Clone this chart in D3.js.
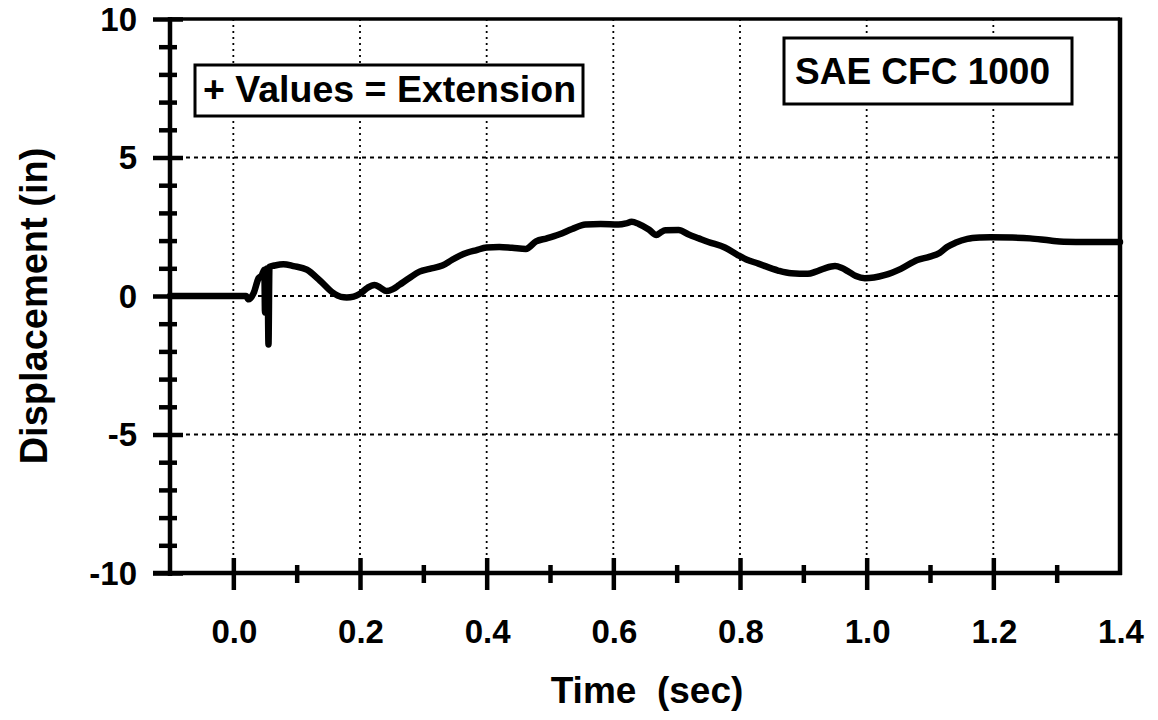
<!DOCTYPE html>
<html>
<head>
<meta charset="utf-8">
<script src="https://cdn.jsdelivr.net/npm/d3@7"></script>
<style>
  html, body { margin: 0; padding: 0; background: #fff; }
  text { font-family: "Liberation Sans", Arial, Helvetica, sans-serif; font-weight: bold; fill: #000; }
</style>
</head>
<body>
<svg id="chart" width="1158" height="720"></svg>
<script>
// ---- data ----
const timeSec = [-0.1, 0.02, 0.024, 0.032, 0.04, 0.045, 0.049, 0.050, 0.051, 0.054, 0.0555, 0.057, 0.065, 0.079, 0.095,
  0.116, 0.137, 0.157, 0.17, 0.179, 0.19, 0.2, 0.212, 0.223, 0.232, 0.242, 0.252, 0.262, 0.278, 0.294,
  0.31, 0.33, 0.345, 0.357, 0.37, 0.383, 0.4, 0.42, 0.44, 0.462, 0.478, 0.495, 0.514, 0.535, 0.556,
  0.58, 0.608, 0.62, 0.629, 0.64, 0.656, 0.668, 0.675, 0.682, 0.703, 0.719, 0.735, 0.75, 0.776, 0.797,
  0.81, 0.829, 0.86, 0.881, 0.907, 0.92, 0.934, 0.95, 0.96, 0.97, 0.983, 0.997, 1.028, 1.054, 1.08,
  1.1, 1.115, 1.127, 1.14, 1.159, 1.18, 1.195, 1.23, 1.258, 1.29, 1.311, 1.35, 1.4];
const displacementIn = [0, 0, -0.12, 0.1, 0.65, 0.75, 0.95, -0.6, 0.95, 1.0, -1.75, 1.05, 1.1, 1.15, 1.08,
  0.95, 0.55, 0.12, -0.03, -0.05, -0.02, 0.08, 0.3, 0.4, 0.3, 0.18, 0.25, 0.4, 0.65, 0.88,
  0.98, 1.1, 1.3, 1.45, 1.57, 1.65, 1.75, 1.77, 1.74, 1.7, 1.97, 2.08, 2.22, 2.42, 2.58,
  2.6, 2.58, 2.62, 2.68, 2.6, 2.4, 2.2, 2.3, 2.37, 2.38, 2.22, 2.08, 1.95, 1.75, 1.47,
  1.32, 1.17, 0.92, 0.82, 0.8, 0.88, 1.0, 1.08, 1.02, 0.9, 0.72, 0.64, 0.75, 0.98, 1.3,
  1.42, 1.55, 1.77, 1.92, 2.06, 2.11, 2.12, 2.11, 2.08, 2.0, 1.96, 1.95, 1.95];
const xTickLabels = ["0.0", "0.2", "0.4", "0.6", "0.8", "1.0", "1.2", "1.4"];
const xTickValues = [0.0, 0.2, 0.4, 0.6, 0.8, 1.0, 1.2, 1.4];
const yTickValues = [-10, -5, 0, 5, 10];
const xGridValues = [0.0, 0.2, 0.4, 0.6, 0.8, 1.0, 1.2];
const yGridValues = [-5, 0, 5];
const xTitle = "Time  (sec)";
const yTitle = "Displacement (in)";
const noteLeft = "+ Values = Extension";
const noteRight = "SAE CFC 1000";

// ---- layout ----
const svg = d3.select("#chart");
const L = 170, R = 1120, T = 19, B = 573;
const x = d3.scaleLinear().domain([-0.1, 1.4]).range([L, R]);
const y = d3.scaleLinear().domain([-10, 10]).range([B, T]);

// gridlines
svg.append("g").selectAll("line").data(xGridValues).join("line")
  .attr("x1", d => x(d)).attr("x2", d => x(d)).attr("y1", T).attr("y2", B)
  .attr("stroke", "#000").attr("stroke-width", 1.8).attr("stroke-dasharray", "2,4");
svg.append("g").selectAll("line").data(yGridValues).join("line")
  .attr("x1", L).attr("x2", R).attr("y1", d => y(d)).attr("y2", d => y(d))
  .attr("stroke", "#000").attr("stroke-width", 1.8).attr("stroke-dasharray", "4,4");

// data line
const line = d3.line().x((d, i) => x(timeSec[i])).y(d => y(d)).curve(d3.curveMonotoneX);
svg.append("path").datum(displacementIn)
  .attr("d", line).attr("fill", "none").attr("stroke", "#000")
  .attr("stroke-width", 6.5).attr("stroke-linejoin", "round").attr("stroke-linecap", "round");

// frame
svg.append("line").attr("x1", L).attr("x2", R).attr("y1", T).attr("y2", T).attr("stroke", "#000").attr("stroke-width", 3.5);
svg.append("line").attr("x1", R).attr("x2", R).attr("y1", T - 1.5).attr("y2", B + 2).attr("stroke", "#000").attr("stroke-width", 4.5);

// y axis
const yAxis = d3.axisLeft(y).tickValues(d3.range(-10, 11, 1)).tickSize(0).tickFormat("");
const gy = svg.append("g").attr("transform", `translate(${L},0)`).call(yAxis);
gy.select(".domain").attr("stroke", "#000").attr("stroke-width", 4.5).attr("d", `M0,${T - 2}V${B + 3}`);
gy.selectAll(".tick line")
  .attr("x1", d => yTickValues.includes(d) ? -17 : -11)
  .attr("x2", d => yTickValues.includes(d) ? 13 : 7)
  .attr("stroke", "#000").attr("stroke-width", 4.5);
svg.append("g").selectAll("text").data(yTickValues).join("text")
  .attr("x", 137).attr("y", d => y(d)).attr("dy", "0.36em")
  .attr("text-anchor", "end").attr("font-size", 33).text(d => d);

// x axis
const xAxis = d3.axisBottom(x).tickValues(d3.range(0, 14, 1).map(v => v / 10)).tickSize(0).tickFormat("");
const gx = svg.append("g").attr("transform", `translate(0,${B})`).call(xAxis);
gx.select(".domain").attr("stroke", "#000").attr("stroke-width", 4.5).attr("d", `M${L - 17},0H${R + 2}`);
gx.selectAll(".tick line")
  .attr("y1", (d, i) => i % 2 === 0 ? -15 : -8)
  .attr("y2", (d, i) => i % 2 === 0 ? 17 : 10)
  .attr("stroke", "#000").attr("stroke-width", 4.5);
svg.append("g").selectAll("text").data(xTickValues).join("text")
  .attr("x", d => x(d) + 1).attr("y", 643)
  .attr("text-anchor", "middle").attr("font-size", 33).text((d, i) => xTickLabels[i]);

// axis titles
svg.append("text").attr("x", 647).attr("y", 703).attr("text-anchor", "middle")
  .attr("font-size", 37).attr("xml:space", "preserve").style("white-space", "pre").text(xTitle);
svg.append("text").attr("transform", "translate(47,306) rotate(-90)").attr("text-anchor", "middle")
  .attr("font-size", 38).text(yTitle);

// note boxes
function noteBox(x0, y0, w, h, txt, fs, tx, ty) {
  svg.append("rect").attr("x", x0).attr("y", y0).attr("width", w).attr("height", h)
    .attr("fill", "#fff").attr("stroke", "#000").attr("stroke-width", 3);
  svg.append("text").attr("x", tx).attr("y", ty).attr("font-size", fs).text(txt);
}
noteBox(195, 65, 388, 51, noteLeft, 37.5, 203, 102);
noteBox(784, 38, 288, 66, noteRight, 37, 795, 84);
</script>
</body>
</html>
